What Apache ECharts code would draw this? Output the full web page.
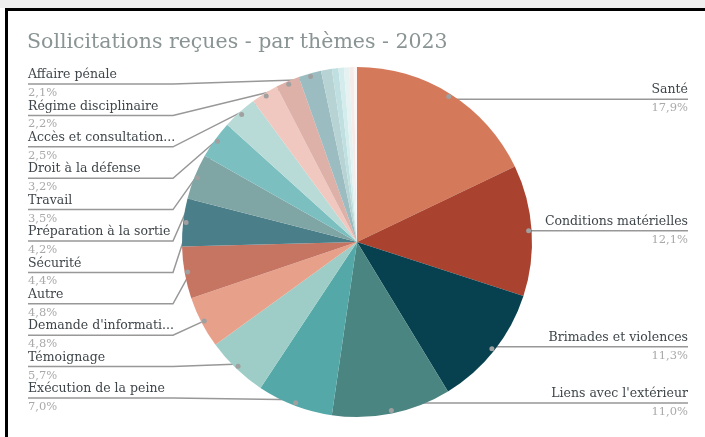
<!DOCTYPE html>
<html>
<head>
<meta charset="utf-8">
<script src="https://cdn.jsdelivr.net/npm/echarts@6/dist/echarts.min.js"></script>
<style>
  html, body { margin: 0; padding: 0; background: #ffffff; }
  #strip { position: absolute; left: 0; top: 0; width: 705px; height: 8px; background: #efefef; }
  #ftop { position: absolute; left: 5px; top: 8px; width: 700px; height: 3px; background: #000; }
  #fleft { position: absolute; left: 5px; top: 8px; width: 3px; height: 429px; background: #000; }
  #chart { position: absolute; left: 0; top: 0; width: 705px; height: 437px; }
</style>
</head>
<body>
<div id="strip"></div>
<div id="ftop"></div>
<div id="fleft"></div>
<div id="chart"></div>
<script>
// ---- data ----
const titleText = 'Sollicitations reçues - par thèmes - 2023';
const themes = [
  'Santé', 'Conditions matérielles', 'Brimades et violences', "Liens avec l'extérieur",
  'Exécution de la peine', 'Témoignage', "Demande d'informati...", 'Autre', 'Sécurité',
  'Préparation à la sortie', 'Travail', 'Droit à la défense', 'Accès et consultation...',
  'Régime disciplinaire', 'Affaire pénale',
  'Autre thème 1', 'Autre thème 2', 'Autre thème 3', 'Autre thème 4', 'Autre thème 5', 'Autre thème 6'
];
const shares = [17.9, 12.1, 11.3, 11.0, 7.0, 5.7, 4.8, 4.8, 4.4, 4.2, 3.5, 3.2, 2.5, 2.2, 2.1,
                1.0, 0.6, 0.5, 0.5, 0.4, 0.3];
const labelledCount = 15;

// ---- styles ----
const sliceColors = ['#d5795b', '#a9432f', '#07414f', '#4b8581', '#54a8a8', '#9dcdc6', '#e7a18b',
  '#c67563', '#4a7e89', '#7fa5a4', '#7cbfc0', '#b8dbd8', '#f1c8bf', '#ddb0a8', '#9bbcc1',
  '#b7d3d3', '#bfdfe0', '#d4ecec', '#e6f2f2', '#f5ebe9', '#fbf6f5'];
const CX = 357, CY = 242, R = 175;
const SERIF = 'DejaVu Serif';

function fmtPct(v) { return v.toFixed(1).replace('.', ',') + '%'; }

const mainData = themes.map((n, i) => {
  const item = { name: n, value: shares[i], itemStyle: { color: sliceColors[i] } };
  if (i >= labelledCount) { item.label = { show: false }; item.labelLine = { show: false }; }
  return item;
});
const dotData = themes.map((n, i) => ({
  name: n, value: shares[i],
  label: { show: i < labelledCount }
}));

const chart = echarts.init(document.getElementById('chart'), null, { renderer: 'canvas' });
chart.setOption({
  backgroundColor: 'transparent',
  animation: false,
  title: {
    text: titleText, left: 27, top: 32, padding: 0,
    textStyle: { fontFamily: SERIF, fontSize: 20.5, fontWeight: 'normal', color: '#8a9494' }
  },
  series: [
    {
      type: 'pie',
      center: [CX, CY],
      radius: R,
      startAngle: 90,
      clockwise: true,
      avoidLabelOverlap: false,
      silent: true,
      data: mainData,
      itemStyle: { borderWidth: 0 },
      label: {
        show: true,
        position: 'outside',
        width: 200,
        formatter: p => '{n|' + p.name + '}\n{v|' + fmtPct(p.value) + '}',
        rich: {
          n: { fontFamily: SERIF, fontSize: 12.5, color: '#3f464a', lineHeight: 18 },
          v: { fontFamily: SERIF, fontSize: 11.5, color: '#a9a9a9', lineHeight: 18 }
        }
      },
      labelLine: { show: true, length: 10, length2: 10, lineStyle: { color: '#989898', width: 1.5 } },
      labelLayout: function (p) {
        const pts = p.labelLinePoints;
        if (!pts) return {};
        const p0 = pts[0];
        const dx = p0[0] - CX, dy = p0[1] - CY;
        const dot = [CX + dx * 0.965, CY + dy * 0.965];
        if (dx > 0) {
          const y = Math.min(dot[1], 403);
          return {
            x: 688, y: y, align: 'right', verticalAlign: 'middle',
            labelLinePoints: [dot, [dot[0] + 1, y], [688, y]]
          };
        }
        const rank = (labelledCount - 1) - p.dataIndex;
        const y = 84 + rank * 31.4;
        return {
          x: 28, y: y, align: 'left', verticalAlign: 'middle',
          labelLinePoints: [dot, [173, y], [28, y]]
        };
      }
    },
    {
      type: 'pie',
      center: [CX, CY],
      radius: [R - 12, R],
      startAngle: 90,
      clockwise: true,
      silent: true,
      z: 5,
      data: dotData,
      itemStyle: { color: 'rgba(0,0,0,0)', borderWidth: 0 },
      label: {
        position: 'inside',
        formatter: ' ',
        fontSize: 1,
        width: 5, height: 5, lineHeight: 5,
        padding: 0,
        borderRadius: 2.5,
        backgroundColor: '#a0a0a0'
      },
      labelLine: { show: false }
    }
  ]
});
</script>
</body>
</html>
